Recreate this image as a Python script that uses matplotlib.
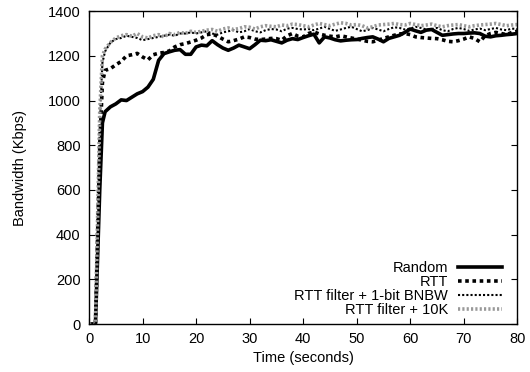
import matplotlib
matplotlib.use("Agg")
import matplotlib.pyplot as plt

plt.rcParams['font.family'] = ['Liberation Sans', 'DejaVu Sans']

# time axis (seconds)
t = [0, 1.2, 2, 2.5] + list(range(3, 81))

random_bw = [0, 0, 600, 900,
             950, 972, 985, 1003, 1000, 1015, 1030, 1040, 1060, 1095,
             1180, 1210, 1218, 1225, 1228, 1207, 1207, 1240, 1248, 1245,
             1268, 1250, 1235, 1225, 1235, 1248, 1240, 1232, 1250, 1270,
             1268, 1272, 1265, 1258, 1270, 1277, 1273, 1282, 1290, 1297,
             1258, 1285, 1280, 1272, 1267, 1270, 1272, 1273, 1278, 1282,
             1285, 1275, 1263, 1278, 1285, 1292, 1305, 1320, 1312, 1305,
             1315, 1318, 1305, 1292, 1295, 1298, 1300, 1300, 1302, 1303,
             1300, 1288, 1285, 1290, 1292, 1295, 1297, 1300]

rtt_bw = [0, 0, 800, 1080,
          1135, 1143, 1160, 1175, 1200, 1205, 1211, 1195, 1182, 1205,
          1212, 1215, 1222, 1240, 1250, 1255, 1262, 1270, 1280, 1295,
          1298, 1288, 1275, 1263, 1268, 1275, 1285, 1282, 1275, 1273,
          1275, 1278, 1277, 1270, 1290, 1300, 1288, 1285, 1300, 1307,
          1298, 1292, 1288, 1285, 1290, 1285, 1280, 1275, 1270, 1265,
          1263, 1270, 1278, 1285, 1292, 1298, 1300, 1295, 1285, 1282,
          1280, 1278, 1277, 1272, 1265, 1263, 1268, 1275, 1285, 1278,
          1263, 1290, 1300, 1305, 1300, 1295, 1305, 1310]

bnbw_bw = [0, 0, 900, 1170,
           1220, 1260, 1275, 1280, 1290, 1285, 1280, 1270, 1275, 1280,
           1285, 1290, 1295, 1290, 1300, 1300, 1305, 1300, 1305, 1310,
           1300, 1295, 1305, 1310, 1315, 1305, 1310, 1320, 1310, 1305,
           1315, 1320, 1318, 1310, 1322, 1325, 1320, 1318, 1320, 1315,
           1322, 1330, 1320, 1312, 1318, 1325, 1330, 1320, 1310, 1315,
           1325, 1318, 1310, 1320, 1328, 1325, 1318, 1322, 1330, 1325,
           1318, 1320, 1325, 1315, 1310, 1320, 1325, 1320, 1312, 1318,
           1322, 1315, 1320, 1325, 1318, 1315, 1322, 1320]

k10_bw = [0, 0, 950, 1200,
          1230, 1260, 1280, 1290, 1295, 1288, 1300, 1285, 1280, 1290,
          1295, 1285, 1300, 1295, 1305, 1300, 1310, 1305, 1310, 1315,
          1318, 1310, 1320, 1325, 1318, 1322, 1330, 1328, 1320, 1330,
          1335, 1332, 1330, 1338, 1335, 1342, 1340, 1335, 1330, 1338,
          1345, 1340, 1335, 1342, 1348, 1345, 1338, 1340, 1335, 1325,
          1330, 1338, 1340, 1342, 1345, 1340, 1338, 1345, 1340, 1335,
          1338, 1342, 1335, 1330, 1335, 1338, 1340, 1335, 1330, 1335,
          1338, 1340, 1342, 1345, 1340, 1335, 1338, 1340]

fig = plt.figure(figsize=(5.30, 3.72), dpi=100)
ax = fig.add_axes([0.168, 0.129, 0.808, 0.841])

ax.plot(t, random_bw, color='black', lw=2.6, label='Random')
ax.plot(t, rtt_bw, color='black', lw=2.6, linestyle=(0, (1, 1)), label='RTT')
ax.plot(t, bnbw_bw, color='black', lw=1.5, linestyle=(0, (1, 1)),
        label='RTT filter + 1-bit BNBW')
ax.plot(t, k10_bw, color='#999999', lw=2.6, linestyle=(0, (0.6, 0.6)),
        label='RTT filter + 10K')

ax.set_xlim(0, 80)
ax.set_ylim(0, 1400)
ax.set_xticks(range(0, 81, 10))
ax.set_yticks(range(0, 1401, 200))
ax.tick_params(direction='in', top=True, right=True, labelsize=10.5,
               length=4, pad=6)
for s in ax.spines.values():
    s.set_linewidth(1.0)

ax.set_xlabel('Time (seconds)', fontsize=10.5, labelpad=3)
ax.set_ylabel('Bandwidth (Kbps)', fontsize=10.5, labelpad=15)

ax.legend(loc='lower right', frameon=False, markerfirst=False, fontsize=10.5,
          handlelength=3.0, labelspacing=0.0, handletextpad=0.7,
          borderaxespad=0.05, bbox_to_anchor=(0.98, 0.0))

fig.savefig('out.png', dpi=100)
